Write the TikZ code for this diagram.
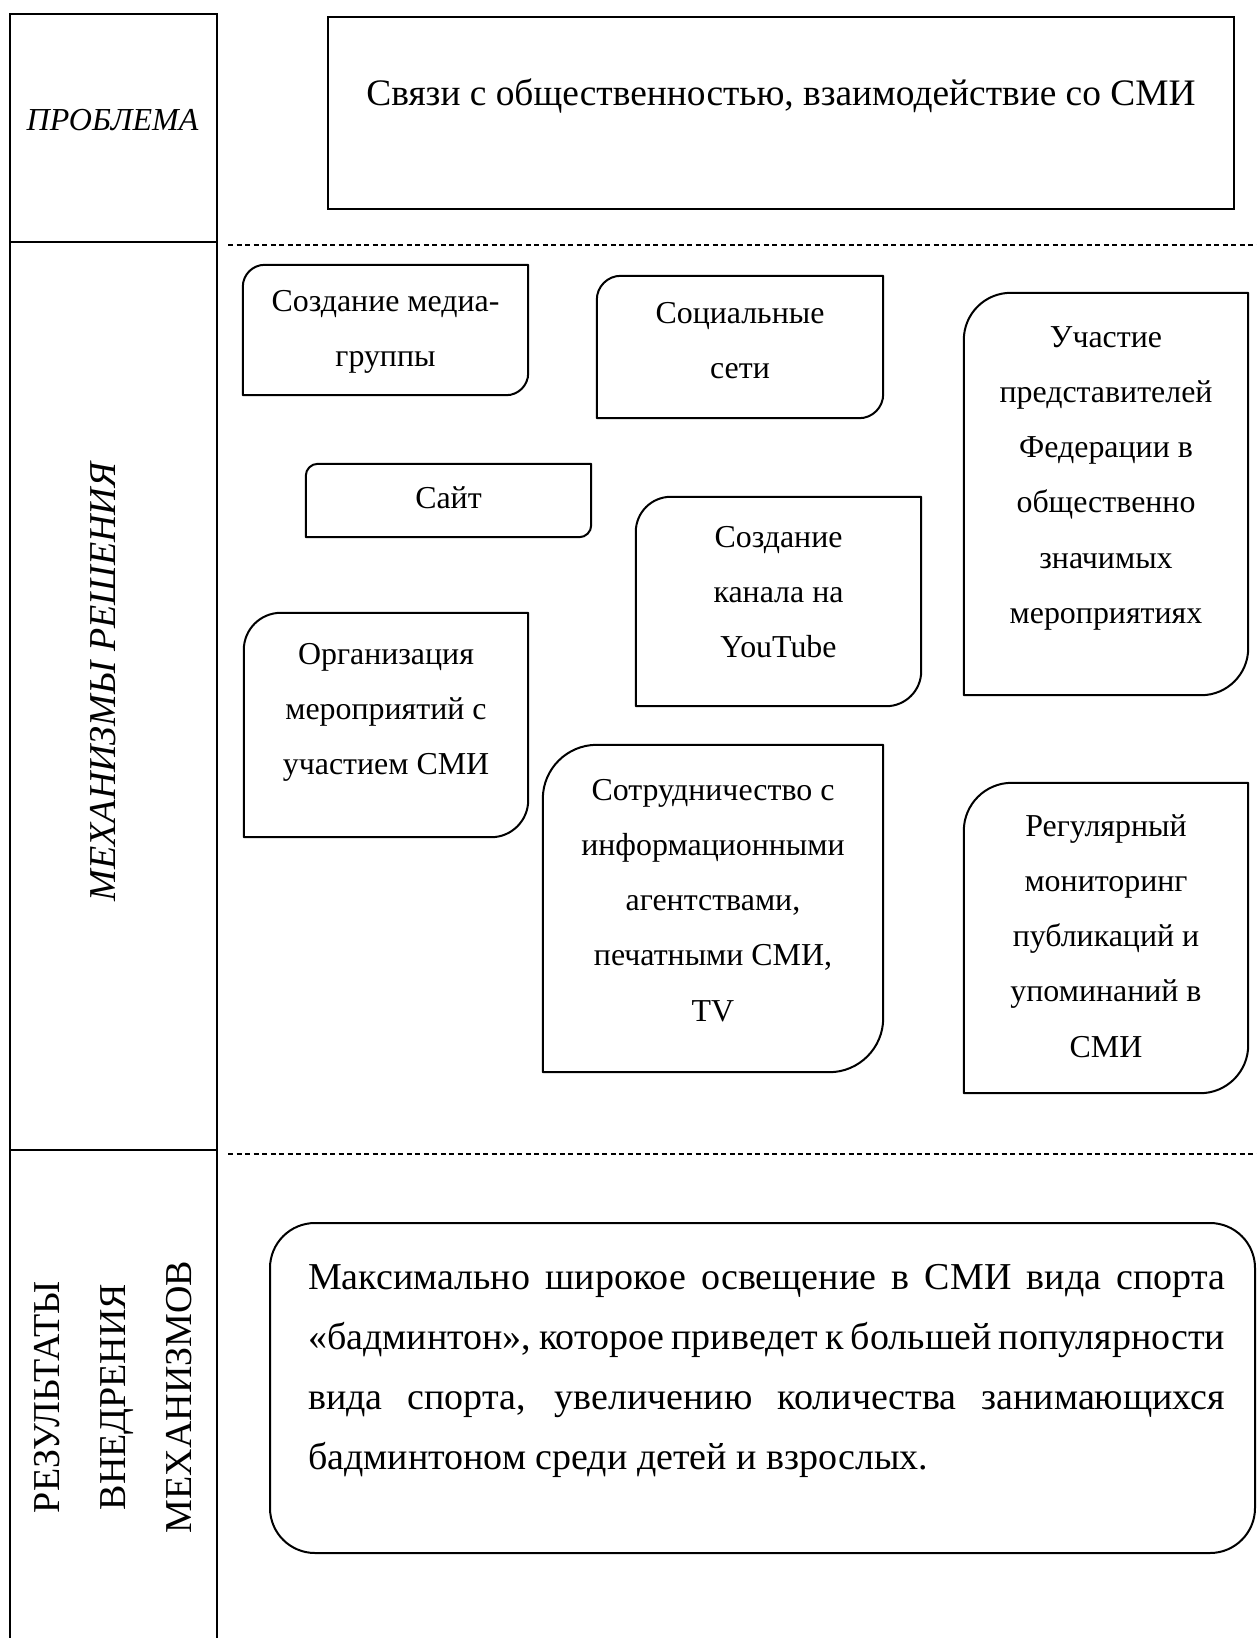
\documentclass[tikz,border=0pt]{standalone}
\usepackage{fontspec}
\setmainfont{Liberation Serif}
\newcommand\diagshape[2]{%
  \pgfmathsetmacro\mydR{#2}\pgfmathsetmacro\mydC{0.448*#2}%
  \draw[boxline] (#1.south west) -- ([yshift=-\mydR pt]#1.north west)
    .. controls ([yshift=-\mydC pt]#1.north west) and ([xshift=\mydC pt]#1.north west) .. ([xshift=\mydR pt]#1.north west)
    -- (#1.north east) -- ([yshift=\mydR pt]#1.south east)
    .. controls ([yshift=\mydC pt]#1.south east) and ([xshift=-\mydC pt]#1.south east) .. ([xshift=-\mydR pt]#1.south east)
    -- cycle;}
\newcommand\mechbox[6]{%
  \node[boxarea, minimum width={(#4-#2)*1pt}, minimum height={(#5-#3)*1pt}] (#1) at ({(#2+#4)/2},{(#3+#5)/2}) {};
  \diagshape{#1}{#6}}
\newcommand\lines[1]{\begin{tabular}[t]{@{}c@{}}#1\end{tabular}}
\begin{document}
\begin{tikzpicture}[x=1pt,y=-1pt,
  frame/.style={line width=2pt},
  dashsep/.style={line width=1.1pt, dash pattern=on 5pt off 3.5pt},
  boxline/.style={line width=2pt, line join=round},
  boxarea/.style={inner sep=0pt, draw=none},
  small/.style={font=\fontsize{31.9}{55.3}\selectfont, inner sep=0pt, anchor=base},
  big/.style={font=\fontsize{38}{60}\selectfont, inner sep=0pt},
  side/.style={font=\fontsize{38}{40}\selectfont, inner sep=0pt, anchor=base, rotate=90},
]
\useasboundingbox (0,0) rectangle (1257,1638);
\clip (0,0) rectangle (1257,1638);

% left column
\draw[frame] (10,1660) -- (10,14) -- (217,14) -- (217,1660);
\draw[frame] (10,242) -- (217,242);
\draw[frame] (10,1150) -- (217,1150);
\node[font=\fontsize{32}{40}\selectfont\itshape, inner sep=0pt, anchor=base] (problab) at (112.5,130) {ПРОБЛЕМА};
\node[side, font=\fontsize{38}{40}\selectfont\itshape] (mechlab) at (115,682) {МЕХАНИЗМЫ РЕШЕНИЯ};
\node[side] (res1) at (59,1397) {РЕЗУЛЬТАТЫ};
\node[side] (res2) at (125,1397) {ВНЕДРЕНИЯ};
\node[side] (res3) at (191,1397) {МЕХАНИЗМОВ};

% separators
\draw[dashsep] (228,245) -- (1257,245);
\draw[dashsep] (228,1154) -- (1257,1154);

% problem
\node[boxarea, draw, line width=2.6pt, minimum width=906pt, minimum height=192pt] (problem) at (781,113) {};
\node[font=\fontsize{37.4}{60}\selectfont, inner sep=0pt, anchor=base] (problemtext) at (781,105) {Связи с общественностью, взаимодействие со СМИ};

% mechanisms
\mechbox{media}{243}{265}{528}{395}{22}
\mechbox{site}{306}{464}{591}{537}{12}
\mechbox{social}{597}{276}{883}{418}{24}
\mechbox{youtube}{636}{497}{921}{706}{35}
\mechbox{particip}{964}{293}{1248}{695}{47}
\mechbox{org}{244}{613}{528}{837}{37}
\mechbox{coop}{543}{745}{883}{1072}{54}
\mechbox{monitor}{964}{783}{1248}{1093}{48}

\node[small] (mediat) at (385.5,311) {\lines{Создание медиа-\\группы}};
\node[small] (sitet) at (448.5,508) {\lines{Сайт}};
\node[small] (socialt) at (740,323) {\lines{Социальные\\сети}};
\node[small] (youtubet) at (778.5,547) {\lines{Создание\\канала на\\YouTube}};
\node[small] (participt) at (1106,347) {\lines{Участие\\представителей\\Федерации в\\общественно\\значимых\\мероприятиях}};
\node[small] (orgt) at (386,664) {\lines{Организация\\мероприятий с\\участием СМИ}};
\node[small] (coopt) at (713,800) {\lines{Сотрудничество с\\информационными\\агентствами,\\печатными СМИ,\\TV}};
\node[small] (monitort) at (1106,836) {\lines{Регулярный\\мониторинг\\публикаций и\\упоминаний в\\СМИ}};

% results
\node[boxarea, draw, line width=2pt, rounded corners=45pt, minimum width=985pt, minimum height=330pt] (result) at (762.5,1388) {};
\node[big, text width=917pt, align=justify, anchor=base west] (resultt) at (308,1289) {Максимально широкое освещение в СМИ вида спорта\linebreak «бадминтон», которое приведет к большей популярности\linebreak вида спорта, увеличению количества занимающихся\linebreak бадминтоном среди детей и взрослых.};
\end{tikzpicture}
\end{document}
